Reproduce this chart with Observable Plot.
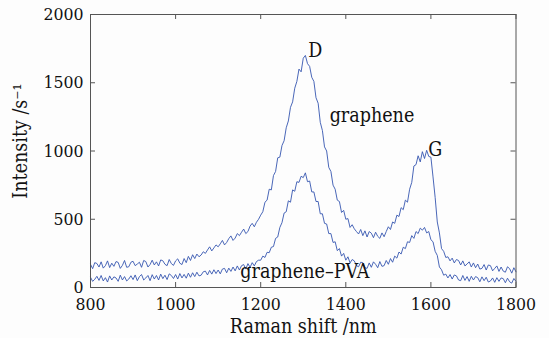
<!DOCTYPE html>
<html>
<head>
<meta charset="utf-8">
<script src="https://cdn.jsdelivr.net/npm/d3@7"></script>
<script src="https://cdn.jsdelivr.net/npm/@observablehq/plot@0.6"></script>
<style>
  html, body { margin: 0; padding: 0; background: #fdfdfd; }
  svg { display: block; }
</style>
</head>
<body>
<div id="chart"></div>
<script>
// Raman shift sampling (nm), every 5 nm from 800 to 1800
const shift = d3.range(800, 1801, 5);

// graphene (upper curve), intensity /s^-1
const graphene = [
  170,138,182,176,150,188,142,160,195,146,
  178,155,190,184,140,162,198,148,152,185,
  192,160,172,185,148,198,190,150,168,200,
  165,188,158,202,196,170,160,205,175,162,
  195,210,178,168,212,182,228,198,240,212,
  245,225,238,262,250,275,298,268,290,312,
  298,320,345,312,330,358,378,345,362,395,
  380,405,428,395,410,450,470,445,478,500,
  530,555,625,640,720,715,820,850,950,955,
  1040,1075,1170,1220,1320,1360,1460,1510,1600,1580,
  1680,1700,1640,1620,1540,1510,1390,1350,1210,1150,
  1030,1000,880,850,750,720,640,630,550,565,
  500,505,440,460,430,410,392,425,380,415,
  370,410,398,365,405,375,360,400,372,410,
  445,425,480,470,530,520,585,570,640,625,
  720,770,890,900,965,920,995,945,1005,960,
  955,810,660,480,400,285,265,220,225,195,
  215,180,205,198,165,195,158,172,188,150,
  180,145,172,135,140,168,128,165,160,122,
  140,158,118,150,120,112,152,138,105,145,
  115
];

// graphene-PVA (lower curve), intensity /s^-1
const graphenePVA = [
  75,45,60,82,52,88,48,72,40,85,
  55,78,70,45,90,55,80,48,62,86,
  58,92,50,80,95,55,70,88,50,94,
  62,88,55,98,65,90,58,100,88,66,
  95,62,102,70,96,68,105,75,108,80,
  112,85,90,115,120,92,125,98,130,102,
  128,100,135,140,108,142,118,150,122,158,
  128,160,168,135,175,148,182,158,190,200,
  200,230,220,258,255,295,300,360,370,440,
  475,545,555,635,625,715,705,775,770,815,
  805,840,775,780,700,700,630,630,540,540,
  470,465,395,395,330,335,270,285,230,250,
  200,225,180,205,195,160,152,185,182,145,
  140,180,148,188,170,145,190,155,160,198,
  170,212,185,230,215,260,245,295,285,335,
  330,380,360,410,395,435,420,440,400,410,
  350,335,265,235,150,130,90,98,70,95,
  62,92,85,55,50,88,52,80,45,82,
  55,80,72,42,78,50,75,40,48,70,
  38,72,45,70,65,35,68,42,32,66,
  45
];

const xTicks = [800, 1000, 1200, 1400, 1600, 1800];
const yTicks = [0, 500, 1000, 1500, 2000];

// annotation labels
const labelText = ["D", "graphene", "G", "graphene\u2013PVA"];
const labelShift = [1312, 1362, 1594, 1152];
const labelIntensity = [1685, 1216, 960, 73];

const xTitle = "Raman shift /nm";
const yTitle = "Intensity /s\u207B\u00B9";

const series = [
  ...shift.map((x, i) => ({x, y: graphene[i], s: "graphene"})),
  ...shift.map((x, i) => ({x, y: graphenePVA[i], s: "graphene-PVA"}))
];
const labels = labelText.map((t, i) => ({t, x: labelShift[i], y: labelIntensity[i]}));

const W = 549, H = 338;
const mL = 90, mR = 33.5, mT = 14, mB = 51;
const pw = W - mL - mR, ph = H - mT - mB;
const font = "'DejaVu Serif Condensed', 'DejaVu Serif', serif";
const blue = "#3556b0";
const axisColor = "#555";

const chart = Plot.plot({
  width: W, height: H,
  marginLeft: mL, marginRight: mR, marginTop: mT, marginBottom: mB,
  x: {domain: [800, 1800], axis: null},
  y: {domain: [0, 2000], axis: null},
  style: {fontFamily: font, background: "transparent", color: "#111"},
  marks: [
    Plot.lineY(series, {x: "x", y: "y", z: "s", stroke: blue, strokeWidth: 0.9}),
    Plot.frame({stroke: axisColor, strokeWidth: 1}),
    // inward ticks, bottom & top
    Plot.tickX(xTicks, {x: d => d, stroke: axisColor, insetTop: ph - 5}),
    Plot.tickX(xTicks, {x: d => d, stroke: axisColor, insetBottom: ph - 5}),
    // inward ticks, left & right
    Plot.tickY(yTicks, {y: d => d, stroke: axisColor, insetRight: pw - 5}),
    Plot.tickY(yTicks, {y: d => d, stroke: axisColor, insetLeft: pw - 5}),
    // tick labels
    Plot.axisX(xTicks, {anchor: "bottom", tickSize: 0, tickPadding: 10, fontSize: 17.5, label: null, tickFormat: d => String(d)}),
    Plot.axisY(yTicks, {anchor: "left", tickSize: 0, tickPadding: 7, fontSize: 17.5, label: null, tickFormat: d => String(d)}),
    // annotations
    Plot.text(labels, {x: "x", y: "y", text: "t", textAnchor: "start", lineAnchor: "bottom", fontSize: 19.5, fill: "#111"}),
    // axis titles
    Plot.text([xTitle], {text: d => d, frameAnchor: "bottom", textAnchor: "middle", lineAnchor: "bottom", dy: 45, fontSize: 19.5, fill: "#111"}),
    Plot.text([yTitle], {text: d => d, frameAnchor: "left", textAnchor: "middle", lineAnchor: "middle", dx: -70, dy: -10, rotate: -90, fontSize: 19.5, fill: "#111"})
  ]
});
document.getElementById("chart").appendChild(chart);
</script>
</body>
</html>
